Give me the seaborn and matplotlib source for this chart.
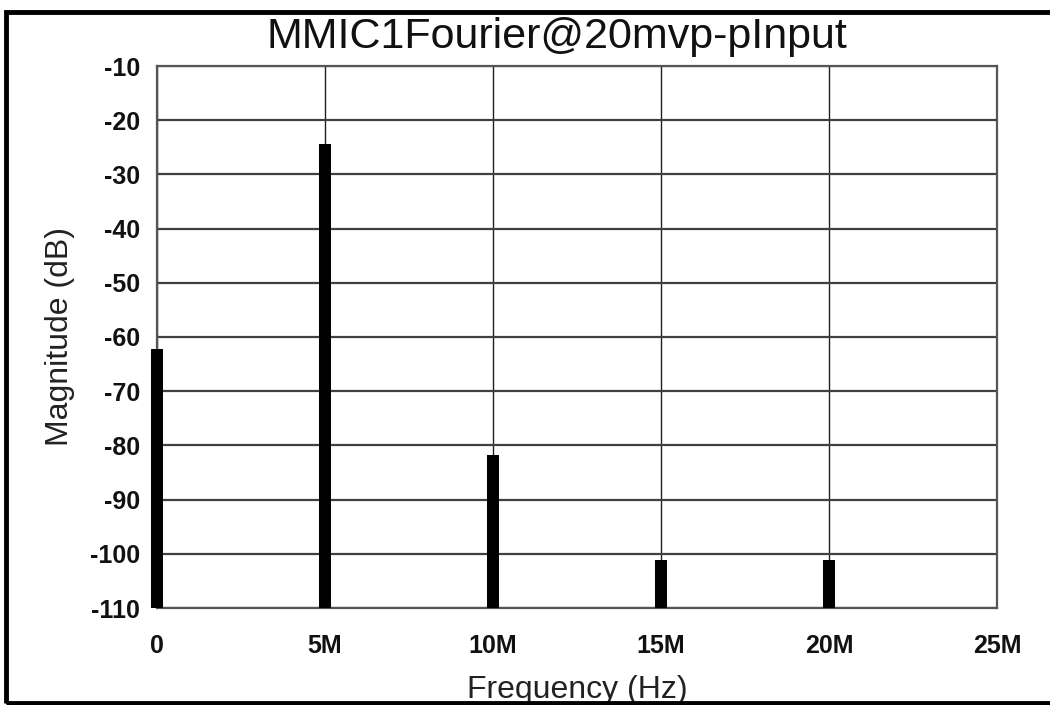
import matplotlib
matplotlib.use("Agg")
import matplotlib.pyplot as plt
import seaborn as sns
import pandas as pd
from matplotlib.patches import Rectangle

freq_hz = [0, 5e6, 10e6, 15e6, 20e6]
magnitude_db = [-62.2, -24.3, -81.8, -101.2, -101.2]
x_ticks = [0, 5e6, 10e6, 15e6, 20e6, 25e6]
x_tick_labels = ["0", "5M", "10M", "15M", "20M", "25M"]
y_ticks = [-10, -20, -30, -40, -50, -60, -70, -80, -90, -100, -110]
y_floor = -110

sns.set_theme(style="white")
plt.rcParams["font.family"] = ["Liberation Sans", "DejaVu Sans"]

df = pd.DataFrame({"freq": freq_hz, "mag": magnitude_db})
# bar heights measured up from the axis floor so each bar ends at its magnitude
df["height"] = df["mag"] - y_floor

fig = plt.figure(figsize=(10.5, 7.05), dpi=100)
ax = fig.add_axes([157/1050, 1-608/705, 840/1050, 542/705])

ax.grid(True, axis="y", color="#404040", linewidth=1.6, zorder=0)
ax.grid(True, axis="x", color="#202020", linewidth=1.0, zorder=0)
ax.set_axisbelow(True)

sns.barplot(data=df, x="freq", y="height", native_scale=True, width=0.066,
            bottom=y_floor, color="black", saturation=1, ax=ax,
            edgecolor="black", linewidth=0, zorder=3)
for p in ax.patches:
    p.set_clip_on(False)
ax.set_xlim(0, 25e6)
ax.set_ylim(-110, -10)
ax.set_yticks(y_ticks)
ax.set_yticklabels([str(v) for v in y_ticks])
ax.set_xticks(x_ticks)
ax.set_xticklabels(x_tick_labels)

for s in ax.spines.values():
    s.set_color("#555555")
    s.set_linewidth(1.6)
    s.set_visible(True)

ax.tick_params(axis="both", which="both", direction="out", length=6, width=1.2,
               color="#444444", labelsize=18, labelcolor="#111111")
ax.tick_params(axis="x", pad=13)
ax.tick_params(axis="y", pad=6)
for lab in ax.get_xticklabels() + ax.get_yticklabels():
    lab.set_fontweight("bold")

ax.set_xlabel("Frequency (Hz)", fontsize=23, color="#222222")
ax.set_ylabel("Magnitude (dB)", fontsize=23, color="#222222")
ax.xaxis.set_label_coords(0.5, (608-690)/542, transform=ax.transAxes)
ax.yaxis.set_label_coords((60-157)/840, 0.5, transform=ax.transAxes)
ax.xaxis.label.set_va("center")
ax.yaxis.label.set_va("center")

fig.text(557/1050, 1-37/705, "MMIC1Fourier@20mvp-pInput", ha="center", va="center",
         fontsize=31, color="#111111")

fig.patches.append(Rectangle((6/1050, 2/705), 1100/1050, 691/705,
                             transform=fig.transFigure, fill=False,
                             edgecolor="black", linewidth=3.5, clip_on=False))

fig.savefig("out.png", dpi=100)
